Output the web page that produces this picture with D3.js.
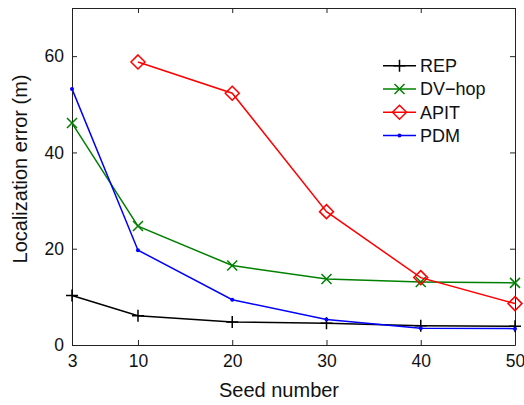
<!DOCTYPE html>
<html><head><meta charset="utf-8">
<script src="https://cdn.jsdelivr.net/npm/d3@7"></script>
<style>body{margin:0;background:#fff}svg{display:block}text{font-family:"Liberation Sans",Arial,sans-serif}</style>
</head><body>
<script>
const seeds = [3, 10, 20, 30, 40, 50];
const xTicks = [3, 10, 20, 30, 40, 50];
const yTicks = [0, 20, 40, 60];
const repVals = [10.3, 6.1, 4.8, 4.5, 4.0, 3.9];
const dvhopVals = [46.1, 24.7, 16.5, 13.7, 13.1, 12.9];
const apitSeeds = [10, 20, 30, 40, 50];
const apitVals = [58.8, 52.3, 27.7, 14.0, 8.6];
const pdmVals = [53.2, 19.7, 9.4, 5.3, 3.5, 3.4];
const names = ["REP", "DV\u2212hop", "APIT", "PDM"];
const colors = ["#000000", "#008000", "#ff0000", "#0000ff"];
const markers = ["plus", "cross", "diamond", "dot"];

const W = 524, H = 405;
const m = {l: 72, r: 9, t: 8, b: 60};
const svg = d3.select("body").append("svg").attr("width", W).attr("height", H);
const x = d3.scaleLinear().domain([3, 50]).range([m.l, W - m.r]);
const y = d3.scaleLinear().domain([0, 70]).range([H - m.b, m.t]);

const series = [
  {xs: seeds, ys: repVals},
  {xs: seeds, ys: dvhopVals},
  {xs: apitSeeds, ys: apitVals},
  {xs: seeds, ys: pdmVals}
];

const tickFs = 17.5, legFs = 18, labFs = 20;
const gx = svg.append("g").attr("transform", `translate(0,${H - m.b})`)
  .call(d3.axisBottom(x).tickValues(xTicks).tickSizeInner(-5).tickSizeOuter(0).tickPadding(10));
const gxt = svg.append("g").attr("transform", `translate(0,${m.t})`)
  .call(d3.axisTop(x).tickValues(xTicks).tickSizeInner(-5).tickSizeOuter(0).tickFormat(""));
const gy = svg.append("g").attr("transform", `translate(${m.l},0)`)
  .call(d3.axisLeft(y).tickValues(yTicks).tickSizeInner(-5).tickSizeOuter(0).tickPadding(8));
const gyr = svg.append("g").attr("transform", `translate(${W - m.r},0)`)
  .call(d3.axisRight(y).tickValues(yTicks).tickSizeInner(-5).tickSizeOuter(0).tickFormat(""));
[gx, gxt, gy, gyr].forEach(g => {
  g.selectAll("path,line").attr("stroke", "#222").attr("stroke-width", 1);
  g.selectAll("text").attr("font-size", tickFs).attr("fill", "#111")
    .style("font-family", '"Liberation Sans",Arial,sans-serif');
});

const line = d3.line();
function drawMarker(g, type, cx, cy, color) {
  if (type === "plus") {
    g.append("path").attr("d", `M${cx-6},${cy}H${cx+6}M${cx},${cy-6}V${cy+6}`)
      .attr("stroke", color).attr("stroke-width", 1.5).attr("fill", "none");
  } else if (type === "cross") {
    g.append("path").attr("d", `M${cx-5},${cy-5}L${cx+5},${cy+5}M${cx-5},${cy+5}L${cx+5},${cy-5}`)
      .attr("stroke", color).attr("stroke-width", 1.5).attr("fill", "none");
  } else if (type === "diamond") {
    g.append("path").attr("d", `M${cx},${cy-7}L${cx+7},${cy}L${cx},${cy+7}L${cx-7},${cy}Z`)
      .attr("stroke", color).attr("stroke-width", 1.5).attr("fill", "none");
  } else {
    g.append("circle").attr("cx", cx).attr("cy", cy).attr("r", 2).attr("fill", color);
  }
}

series.forEach((s, i) => {
  const pts = s.xs.map((d, j) => [x(d), y(s.ys[j])]);
  const g = svg.append("g");
  g.append("path").attr("d", line(pts)).attr("fill", "none")
    .attr("stroke", colors[i]).attr("stroke-width", 1.5);
  pts.forEach(p => drawMarker(g, markers[i], p[0], p[1], colors[i]));
});

const lg = svg.append("g");
names.forEach((n, i) => {
  const ly = 65.7 + i * 23.3;
  lg.append("line").attr("x1", 383).attr("x2", 416).attr("y1", ly).attr("y2", ly)
    .attr("stroke", colors[i]).attr("stroke-width", 1.5);
  drawMarker(lg, markers[i], 399.5, ly, colors[i]);
  lg.append("text").attr("x", 420).attr("y", ly).attr("dy", "0.36em")
    .attr("font-size", legFs).attr("fill", "#111").text(n);
});

svg.append("text").attr("x", 279).attr("y", 397).attr("text-anchor", "middle")
  .attr("font-size", labFs).attr("fill", "#111").text("Seed number");
svg.append("text").attr("transform", `translate(26.5,169) rotate(-90)`).attr("text-anchor", "middle")
  .attr("font-size", labFs).attr("fill", "#111").text("Localization error (m)");
</script>
</body></html>
